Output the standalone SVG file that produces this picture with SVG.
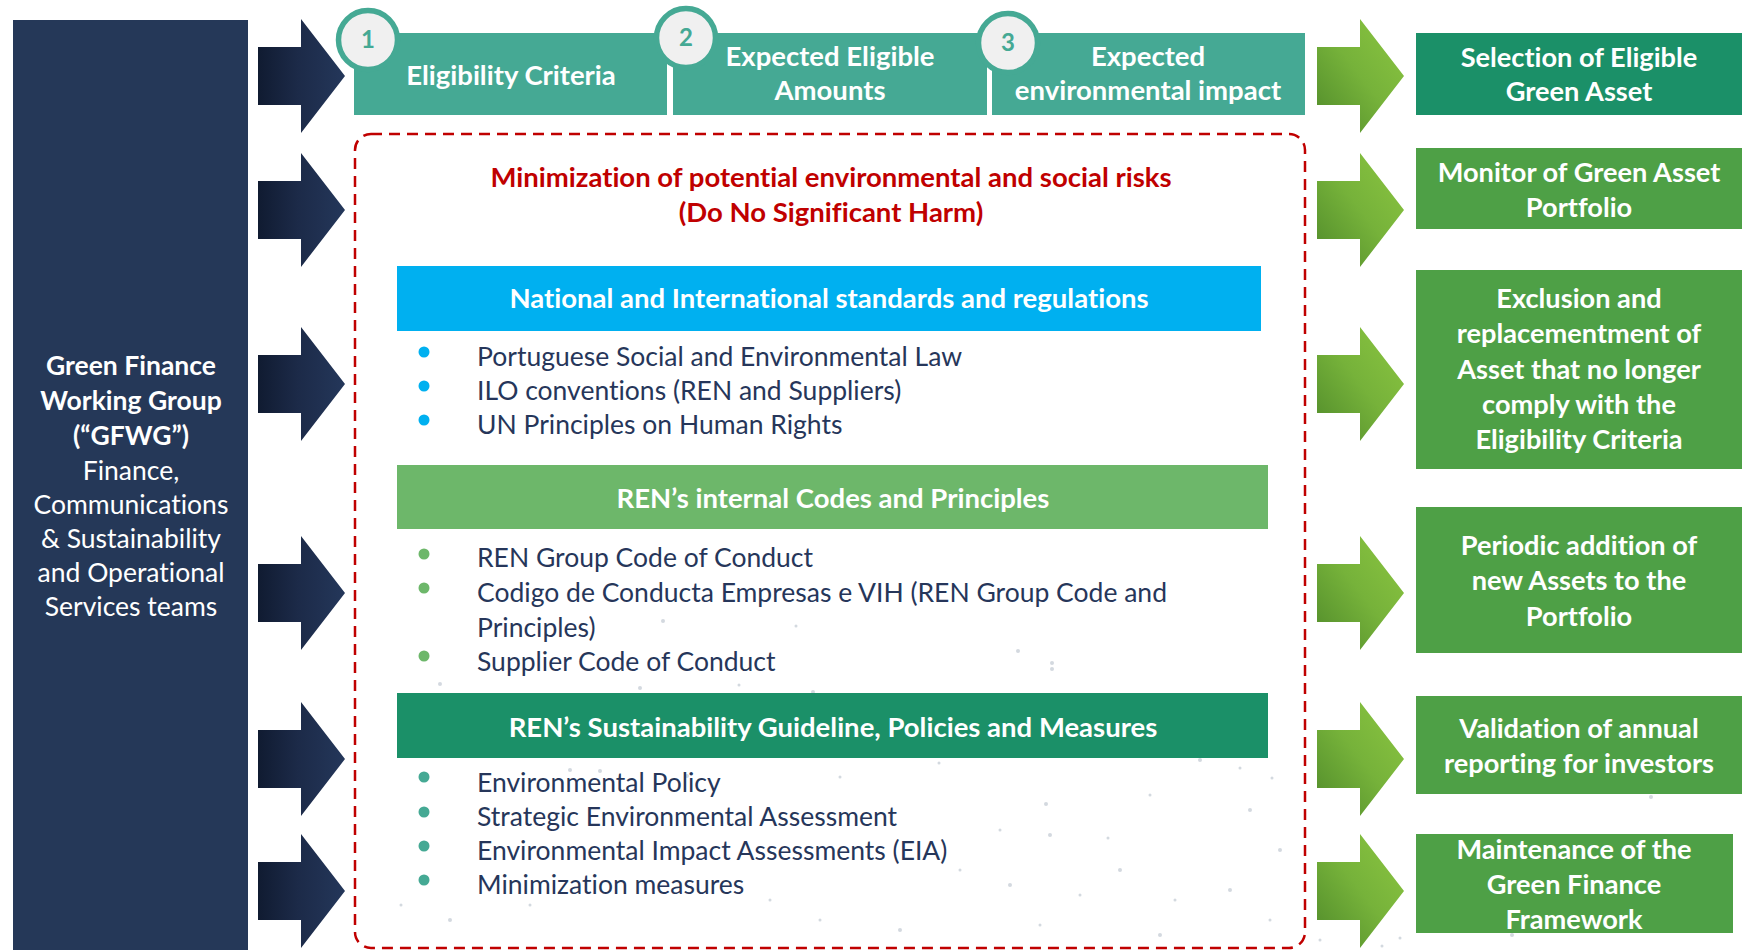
<svg xmlns="http://www.w3.org/2000/svg" width="1750" height="950" viewBox="0 0 1750 950">
  <defs>
    <linearGradient id="navyArrow" x1="0" y1="0" x2="1" y2="0">
      <stop offset="0" stop-color="#101b31"/>
      <stop offset="0.45" stop-color="#1c2a48"/>
      <stop offset="1" stop-color="#24375a"/>
    </linearGradient>
    <linearGradient id="greenArrow" x1="0" y1="1" x2="1" y2="0">
      <stop offset="0" stop-color="#4f8a2a"/>
      <stop offset="0.5" stop-color="#76b23a"/>
      <stop offset="1" stop-color="#8cc641"/>
    </linearGradient>
    <!-- block arrow pointing right, centred on its own origin -->
    <path id="blockArrow" d="M0,-29 H43 V-57 L87,0 L43,57 V29 H0 Z"/>
    <style>
      .t { font-family: Lato, "Open Sans", "Liberation Sans", sans-serif; font-variant-ligatures: no-common-ligatures; }
      .b { font-weight: 700; }
      .w { fill: #ffffff; }
      .mid { text-anchor: middle; }
      .step { fill: #45a994; }
      .badge { fill: #f0f0f0; stroke: #45a994; stroke-width: 5.5; }
      .badgeNum { font-family: Lato, "Liberation Sans", sans-serif; font-weight: 700; font-size: 24px; fill: #45a994; text-anchor: middle; }
      .stepTxt { font-size: 27.5px; }
      .outTxt { font-size: 27.2px; }
      .barTxt { font-size: 27.5px; }
      .item { font-size: 26.5px; fill: #26365a; }
      .red { fill: #c00000; font-size: 27.5px; }
      .leftTxt { font-size: 26.5px; }
      .speck { fill: #c9d0d8; }
    </style>
  </defs>

  <rect width="1750" height="950" fill="#ffffff"/>

  <!-- faint speckle texture behind the lower part of the frame -->
  <g id="speckle" class="speck" opacity="0.8">
    <circle cx="1018" cy="651" r="2"/><circle cx="1052" cy="663" r="2"/><circle cx="1052" cy="669" r="2"/>
    <circle cx="663" cy="621" r="2"/><circle cx="796" cy="626" r="1.5"/><circle cx="440" cy="684" r="2"/>
    <circle cx="640" cy="688" r="2"/><circle cx="739" cy="685" r="1.5"/><circle cx="813" cy="692" r="2"/>
    <circle cx="570" cy="770" r="2"/><circle cx="600" cy="771" r="2"/><circle cx="687" cy="776" r="2"/>
    <circle cx="840" cy="777" r="1.5"/><circle cx="939" cy="763" r="1.5"/><circle cx="1046" cy="804" r="2"/>
    <circle cx="1000" cy="830" r="1.5"/><circle cx="1050" cy="835" r="2"/><circle cx="1108" cy="838" r="1.5"/>
    <circle cx="1150" cy="795" r="1.5"/><circle cx="1200" cy="760" r="2"/><circle cx="1240" cy="768" r="1.5"/>
    <circle cx="1250" cy="810" r="2"/><circle cx="1272" cy="778" r="1.5"/><circle cx="1280" cy="850" r="2"/>
    <circle cx="960" cy="870" r="1.5"/><circle cx="1010" cy="885" r="2"/><circle cx="1080" cy="895" r="1.5"/>
    <circle cx="1120" cy="870" r="2"/><circle cx="1175" cy="900" r="1.5"/><circle cx="1230" cy="890" r="2"/>
    <circle cx="770" cy="900" r="1.5"/><circle cx="820" cy="920" r="1.5"/><circle cx="900" cy="930" r="2"/>
    <circle cx="1040" cy="925" r="1.5"/><circle cx="1160" cy="935" r="2"/><circle cx="1270" cy="920" r="1.5"/>
    <circle cx="401" cy="905" r="1.5"/><circle cx="450" cy="920" r="2"/><circle cx="530" cy="905" r="1.5"/>
    <circle cx="1335" cy="746" r="2.5"/><circle cx="1651" cy="797" r="2"/><circle cx="1512" cy="935" r="2"/>
    <circle cx="1320" cy="940" r="1.5"/><circle cx="1382" cy="946" r="1.5"/><circle cx="1400" cy="938" r="1.5"/>
  </g>

  <!-- working group panel -->
  <g id="gfwg">
    <rect x="13" y="20" width="235" height="930" fill="#253858"/>
    <g class="t w mid leftTxt">
      <text x="131" y="375" class="b">Green Finance</text>
      <text x="131" y="410" class="b">Working Group</text>
      <text x="131" y="445" class="b">(“GFWG”)</text>
      <text x="131" y="480">Finance,</text>
      <text x="131" y="514">Communications</text>
      <text x="131" y="548">&amp; Sustainability</text>
      <text x="131" y="582">and Operational</text>
      <text x="131" y="616">Services teams</text>
    </g>
  </g>

  <!-- arrows feeding in from the panel and out to the results -->
  <g id="connectors">
    <g fill="url(#navyArrow)">
      <use href="#blockArrow" x="258" y="76"/>
      <use href="#blockArrow" x="258" y="210"/>
      <use href="#blockArrow" x="258" y="384"/>
      <use href="#blockArrow" x="258" y="593"/>
      <use href="#blockArrow" x="258" y="759"/>
      <use href="#blockArrow" x="258" y="891"/>
    </g>
    <g fill="url(#greenArrow)">
      <use href="#blockArrow" x="1317" y="76"/>
      <use href="#blockArrow" x="1317" y="210"/>
      <use href="#blockArrow" x="1317" y="384"/>
      <use href="#blockArrow" x="1317" y="593"/>
      <use href="#blockArrow" x="1317" y="759"/>
      <use href="#blockArrow" x="1317" y="891"/>
    </g>
  </g>

  <!-- three numbered steps -->
  <g id="step1">
    <rect class="step" x="354" y="33" width="313" height="82"/>
    <circle class="badge" cx="368" cy="40" r="29.5"/>
    <text class="badgeNum" x="368" y="48">1</text>
    <text class="t b w mid stepTxt" x="511" y="85">Eligibility Criteria</text>
  </g>
  <g id="step2">
    <rect class="step" x="673" y="33" width="314" height="82"/>
    <circle class="badge" cx="686" cy="38" r="29.5"/>
    <text class="badgeNum" x="686" y="46">2</text>
    <text class="t b w mid stepTxt" x="830" y="66">Expected Eligible</text>
    <text class="t b w mid stepTxt" x="830" y="100">Amounts</text>
  </g>
  <g id="step3">
    <rect class="step" x="992" y="33" width="313" height="82"/>
    <circle class="badge" cx="1008" cy="43" r="29.5"/>
    <text class="badgeNum" x="1008" y="51">3</text>
    <text class="t b w mid stepTxt" x="1148" y="66">Expected</text>
    <text class="t b w mid stepTxt" x="1148" y="100">environmental impact</text>
  </g>

  <!-- do-no-significant-harm frame -->
  <g id="dnsh">
    <rect x="355" y="134" width="950" height="814" rx="16" ry="16" fill="none" stroke="#c00000" stroke-width="2.5" stroke-dasharray="11 7"/>
    <text class="t b mid red" x="831" y="187">Minimization of potential environmental and social risks</text>
    <text class="t b mid red" x="831" y="222">(Do No Significant Harm)</text>
  </g>

  <g id="standards">
    <rect x="397" y="266" width="864" height="65" fill="#00b0f0"/>
    <text class="t b w mid barTxt" x="829" y="308">National and International standards and regulations</text>
    <g fill="#00b0f0">
      <circle cx="424" cy="352" r="5.5"/>
      <circle cx="424" cy="386" r="5.5"/>
      <circle cx="424" cy="420" r="5.5"/>
    </g>
    <g class="t item">
      <text x="477" y="366">Portuguese Social and Environmental Law</text>
      <text x="477" y="400">ILO conventions (REN and Suppliers)</text>
      <text x="477" y="434">UN Principles on Human Rights</text>
    </g>
  </g>

  <g id="codes">
    <rect x="397" y="465" width="871" height="64" fill="#6db76a"/>
    <text class="t b w mid barTxt" x="833" y="508">REN’s internal Codes and Principles</text>
    <g fill="#6db76a">
      <circle cx="424" cy="554" r="5.5"/>
      <circle cx="424" cy="588" r="5.5"/>
      <circle cx="424" cy="656" r="5.5"/>
    </g>
    <g class="t item">
      <text x="477" y="567">REN Group Code of Conduct</text>
      <text x="477" y="602">Codigo de Conducta Empresas e VIH (REN Group Code and</text>
      <text x="477" y="637">Principles)</text>
      <text x="477" y="671">Supplier Code of Conduct</text>
    </g>
  </g>

  <g id="policies">
    <rect x="397" y="693" width="871" height="65" fill="#1b9068"/>
    <text class="t b w mid barTxt" x="833" y="737">REN’s Sustainability Guideline, Policies and Measures</text>
    <g fill="#45a994">
      <circle cx="424" cy="777" r="5.5"/>
      <circle cx="424" cy="812" r="5.5"/>
      <circle cx="424" cy="846" r="5.5"/>
      <circle cx="424" cy="880" r="5.5"/>
    </g>
    <g class="t item">
      <text x="477" y="792">Environmental Policy</text>
      <text x="477" y="826">Strategic Environmental Assessment</text>
      <text x="477" y="860">Environmental Impact Assessments (EIA)</text>
      <text x="477" y="894">Minimization measures</text>
    </g>
  </g>

  <!-- outcomes -->
  <g id="selection">
    <rect x="1416" y="33" width="326" height="82" fill="#1b9068"/>
    <g class="t b w mid outTxt">
      <text x="1579" y="67">Selection of Eligible</text>
      <text x="1579" y="101">Green Asset</text>
    </g>
  </g>
  <g id="monitor">
    <rect x="1416" y="148" width="326" height="81" fill="#4ea046"/>
    <g class="t b w mid outTxt">
      <text x="1579" y="182">Monitor of Green Asset</text>
      <text x="1579" y="217">Portfolio</text>
    </g>
  </g>
  <g id="exclusion">
    <rect x="1416" y="270" width="326" height="199" fill="#4ea046"/>
    <g class="t b w mid outTxt">
      <text x="1579" y="308">Exclusion and</text>
      <text x="1579" y="343">replacementment of</text>
      <text x="1579" y="379">Asset that no longer</text>
      <text x="1579" y="414">comply with the</text>
      <text x="1579" y="449">Eligibility Criteria</text>
    </g>
  </g>
  <g id="addition">
    <rect x="1416" y="507" width="326" height="146" fill="#4ea046"/>
    <g class="t b w mid outTxt">
      <text x="1579" y="555">Periodic addition of</text>
      <text x="1579" y="590">new Assets to the</text>
      <text x="1579" y="626">Portfolio</text>
    </g>
  </g>
  <g id="validation">
    <rect x="1416" y="696" width="326" height="98" fill="#4ea046"/>
    <g class="t b w mid outTxt">
      <text x="1579" y="738">Validation of annual</text>
      <text x="1579" y="773">reporting for investors</text>
    </g>
  </g>
  <g id="maintenance">
    <rect x="1416" y="834" width="317" height="99" fill="#4ea046"/>
    <g class="t b w mid outTxt">
      <text x="1574" y="859">Maintenance of the</text>
      <text x="1574" y="894">Green Finance</text>
      <text x="1574" y="929">Framework</text>
    </g>
  </g>
</svg>
